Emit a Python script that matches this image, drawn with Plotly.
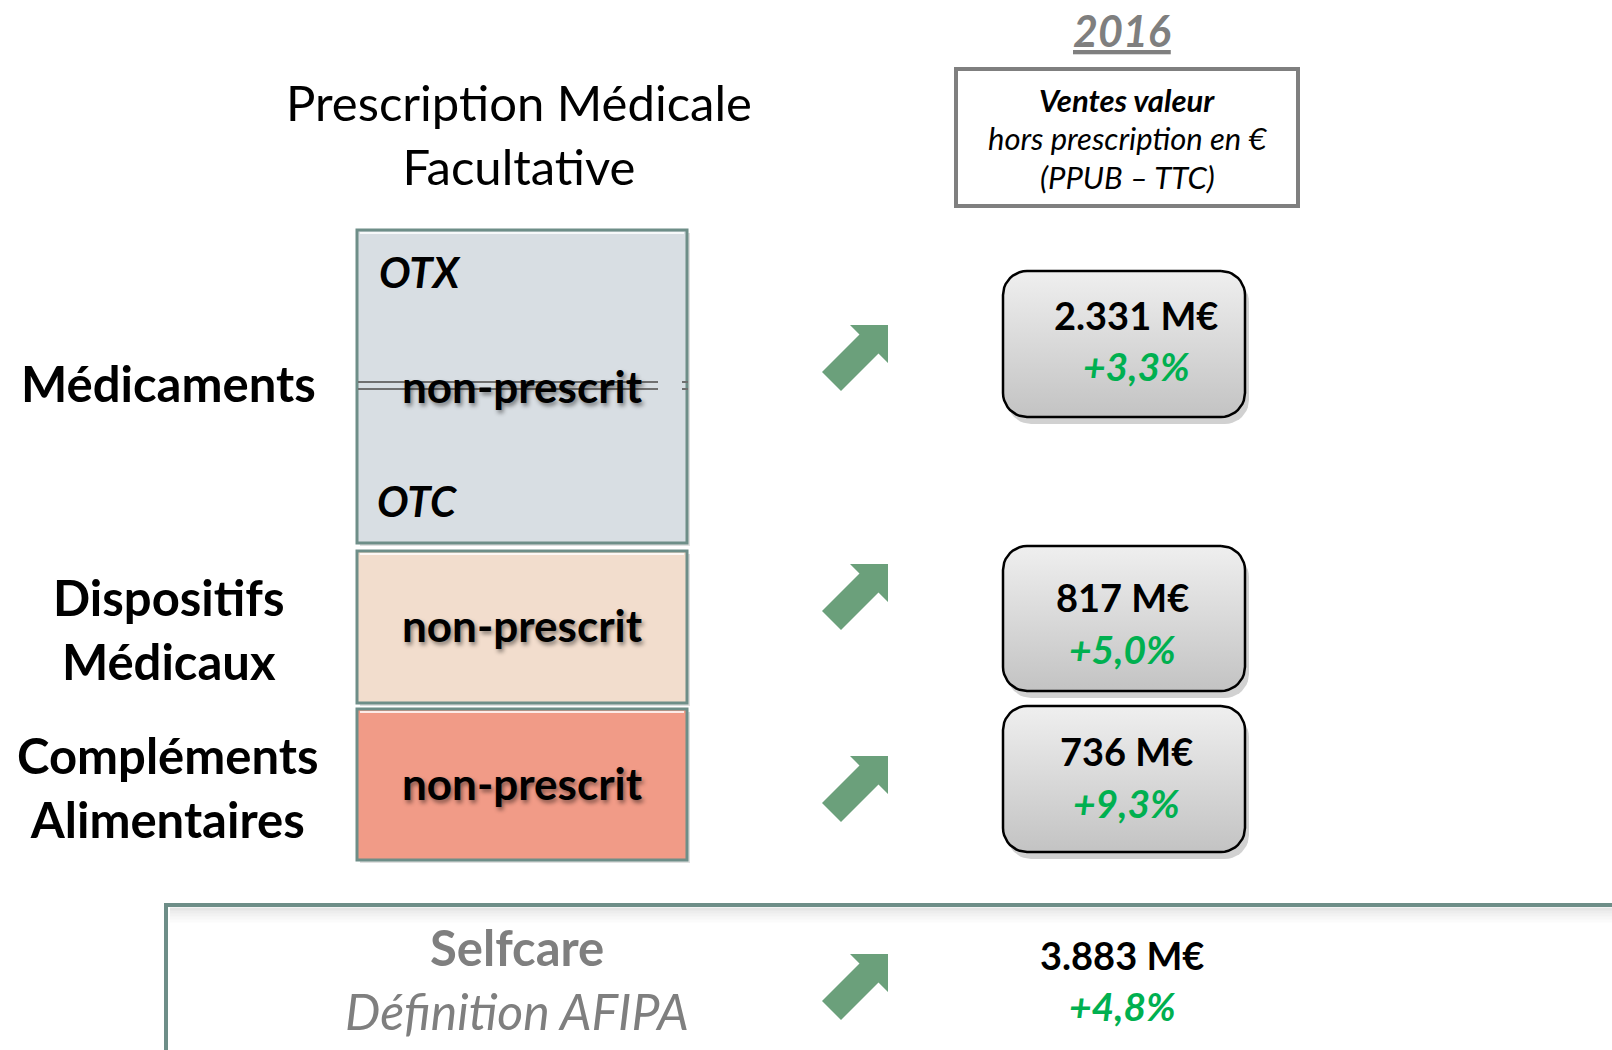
import math
import plotly.graph_objects as go

# ---------------- data ----------------
categories = ["Médicaments", "Dispositifs<br>Médicaux", "Compléments<br>Alimentaires"]
segment_labels = ["non-prescrit", "non-prescrit", "non-prescrit"]
sales_meur = [2331, 817, 736]          # ventes valeur hors prescription, M€
growth_pct = [3.3, 5.0, 9.3]           # évolution 2016, %
total_label = ["Selfcare", "Définition AFIPA"]
total_sales_meur = 3883
total_growth_pct = 4.8
year_label = "2016"
title_lines = ["Prescription Médicale", "Facultative"]
legend_lines = ["Ventes valeur", "hors prescription en €", "(PPUB – TTC)"]
sub_labels = ["OTX", "OTC"]

# ---------------- layout / style ----------------
W, H = 1612, 1050
FONT = "Lato"
box_colors = ["#D8DEE3", "#F2DDCD", "#F19B87"]
box_border = "#6E8E88"
box_x = (357, 687)
box_y = [(230, 543), (551, 703), (709, 860)]
label_pos = [(168, 383), (168, 629), (168, 787)]
segment_text_y = [386, 625, 783]
val_box_x = (1003, 1245)
val_box_y = [(271, 417), (546, 691), (706, 852)]
val_text_x = [1136, 1122, 1126]
val_text_y = [(315, 366), (597, 649), (751, 803)]
arrow_x0 = 822
arrow_y0 = [325, 564, 756, 954]
arrow_color = "#6BA07B"
green = "#00B050"
grey_txt = "#7F7F7F"


def fmt_m(v):
    return f"{v:,}".replace(",", ".") + " M€"


def fmt_g(g):
    return "+" + f"{g:.1f}".replace(".", ",") + "%"


def rounded_rect(x0, y0, x1, y1, r, n=10):
    xs, ys = [], []
    corners = [(x1 - r, y0 + r, -90, 0), (x1 - r, y1 - r, 0, 90),
               (x0 + r, y1 - r, 90, 180), (x0 + r, y0 + r, 180, 270)]
    for cx, cy, a0, a1 in corners:
        for i in range(n + 1):
            a = math.radians(a0 + (a1 - a0) * i / n)
            xs.append(cx + r * math.cos(a))
            ys.append(cy + r * math.sin(a))
    xs.append(xs[0]); ys.append(ys[0])
    return xs, ys


fig = go.Figure()
shapes = []
ann = []

# left stacked boxes
for i, (y0, y1) in enumerate(box_y):
    shapes.append(dict(type="rect", x0=box_x[0] + 3, x1=box_x[1] + 3, y0=y0 + 3, y1=y1 + 3,
                       line=dict(width=0), fillcolor="rgba(0,0,0,0.12)", layer="below"))
    shapes.append(dict(type="rect", x0=box_x[0], x1=box_x[1], y0=y0, y1=y1,
                       line=dict(color=box_border, width=3), fillcolor=box_colors[i], layer="below"))
    shapes.append(dict(type="line", x0=box_x[0] + 3, x1=box_x[1] - 3, y0=y0 + 3, y1=y0 + 3,
                       line=dict(color="rgba(255,255,255,0.8)", width=2), layer="below"))
    ann.append(dict(x=(box_x[0] + box_x[1]) / 2, y=segment_text_y[i], text=segment_labels[i],
                    font=dict(family=FONT, size=44, color="black", weight="bold",
                              shadow="2px 3px 4px rgba(0,0,0,0.45)"),
                    showarrow=False, xanchor="center", yanchor="middle"))

# strikethrough double line on first box
for dy in (382, 389):
    shapes.append(dict(type="line", x0=box_x[0] + 1, x1=658, y0=dy, y1=dy,
                       line=dict(color="#6F6F6F", width=2)))
    shapes.append(dict(type="line", x0=682, x1=688, y0=dy, y1=dy,
                       line=dict(color="#6F6F6F", width=2)))

# OTX / OTC
for txt, (x, y) in zip(sub_labels, [(377, 272), (375, 501)]):
    ann.append(dict(x=x, y=y, text=txt, showarrow=False, xanchor="left", yanchor="middle",
                    font=dict(family=FONT, size=42, color="black", weight="bold", style="italic")))

# left category labels
for txt, (x, y) in zip(categories, label_pos):
    ann.append(dict(x=x, y=y, text=txt, showarrow=False, xanchor="center", yanchor="middle",
                    font=dict(family=FONT, size=49, color="black", weight="bold")))

# title
ann.append(dict(x=519, y=134, text="<br>".join(title_lines), showarrow=False,
                xanchor="center", yanchor="middle",
                font=dict(family=FONT, size=49, color="black")))

# year
ann.append(dict(x=1122, y=30, text=year_label, showarrow=False, xanchor="center", yanchor="middle",
                font=dict(family=FONT, size=43, color=grey_txt, weight="bold", style="italic",
                          lineposition="under")))

# legend box
shapes.append(dict(type="rect", x0=956, x1=1298, y0=69, y1=206,
                   line=dict(color="#7F7F7F", width=4), fillcolor="white"))
ann.append(dict(x=1127, y=100, text=legend_lines[0], showarrow=False, xanchor="center",
                yanchor="middle", font=dict(family=FONT, size=31, color="black", weight="bold",
                                            style="italic")))
for txt, y in zip(legend_lines[1:], [138, 177]):
    ann.append(dict(x=1127, y=y, text=txt, showarrow=False, xanchor="center", yanchor="middle",
                    font=dict(family=FONT, size=31, color="black", style="italic")))

# value boxes (rounded, gradient)
for i, (y0, y1) in enumerate(val_box_y):
    sx, sy = rounded_rect(val_box_x[0] + 4, y0 + 7, val_box_x[1] + 4, y1 + 7, 24)
    fig.add_trace(go.Scatter(x=sx, y=sy, mode="lines", fill="toself",
                             fillcolor="rgba(0,0,0,0.18)", line=dict(width=0),
                             hoverinfo="skip", showlegend=False))
    xs, ys = rounded_rect(val_box_x[0], y0, val_box_x[1], y1, 24)
    fig.add_trace(go.Scatter(x=xs, y=ys, mode="lines", fill="toself",
                             fillgradient=dict(type="vertical", start=y1, stop=y0,
                                               colorscale=[[0, "#C3C3C3"], [1, "#EFEFEF"]]),
                             line=dict(color="black", width=2.5),
                             hoverinfo="skip", showlegend=False))
    ann.append(dict(x=val_text_x[i], y=val_text_y[i][0], text=fmt_m(sales_meur[i]),
                    showarrow=False, xanchor="center", yanchor="middle",
                    font=dict(family=FONT, size=38, color="black", weight="bold")))
    ann.append(dict(x=val_text_x[i], y=val_text_y[i][1], text=fmt_g(growth_pct[i]),
                    showarrow=False, xanchor="center", yanchor="middle",
                    font=dict(family=FONT, size=39, color=green, weight="bold", style="italic")))

# arrows
arrow_pts = [(28, 0), (66, 0), (66, 38), (56.5, 28.5), (19, 66), (0, 47), (37.5, 9.5)]
for y0 in arrow_y0:
    path = "M " + " L ".join(f"{arrow_x0 + dx},{y0 + dy}" for dx, dy in arrow_pts) + " Z"
    shapes.append(dict(type="path", path=path, fillcolor=arrow_color, line=dict(width=0)))

# selfcare box with inner top shadow
for k, a in enumerate([0.10, 0.07, 0.05, 0.03, 0.015]):
    shapes.append(dict(type="line", x0=170, x1=1700, y0=909 + 3 * k, y1=909 + 3 * k,
                       line=dict(color=f"rgba(0,0,0,{a})", width=3), layer="below"))
shapes.append(dict(type="rect", x0=166, x1=1700, y0=905, y1=1100,
                   line=dict(color=box_border, width=4), fillcolor="rgba(0,0,0,0)", layer="below"))
ann.append(dict(x=517, y=947, text=total_label[0], showarrow=False, xanchor="center", yanchor="middle",
                font=dict(family=FONT, size=49, color=grey_txt, weight="bold")))
ann.append(dict(x=517, y=1011, text=total_label[1], showarrow=False, xanchor="center",
                yanchor="middle", font=dict(family=FONT, size=50, color=grey_txt, style="italic")))
ann.append(dict(x=1122, y=955, text=fmt_m(total_sales_meur), showarrow=False, xanchor="center",
                yanchor="middle", font=dict(family=FONT, size=38, color="black", weight="bold")))
ann.append(dict(x=1122, y=1006, text=fmt_g(total_growth_pct), showarrow=False, xanchor="center",
                yanchor="middle", font=dict(family=FONT, size=39, color=green, weight="bold",
                                            style="italic")))

fig.update_layout(
    width=W, height=H, margin=dict(l=0, r=0, t=0, b=0),
    paper_bgcolor="white", plot_bgcolor="white",
    xaxis=dict(range=[0, W], visible=False, fixedrange=True),
    yaxis=dict(range=[H, 0], visible=False, fixedrange=True),
    shapes=shapes, annotations=ann, showlegend=False,
)
fig.write_html("out.html", config={"displayModeBar": False},
               post_script="document.body.style.margin='0px';document.body.style.overflow='hidden';")
